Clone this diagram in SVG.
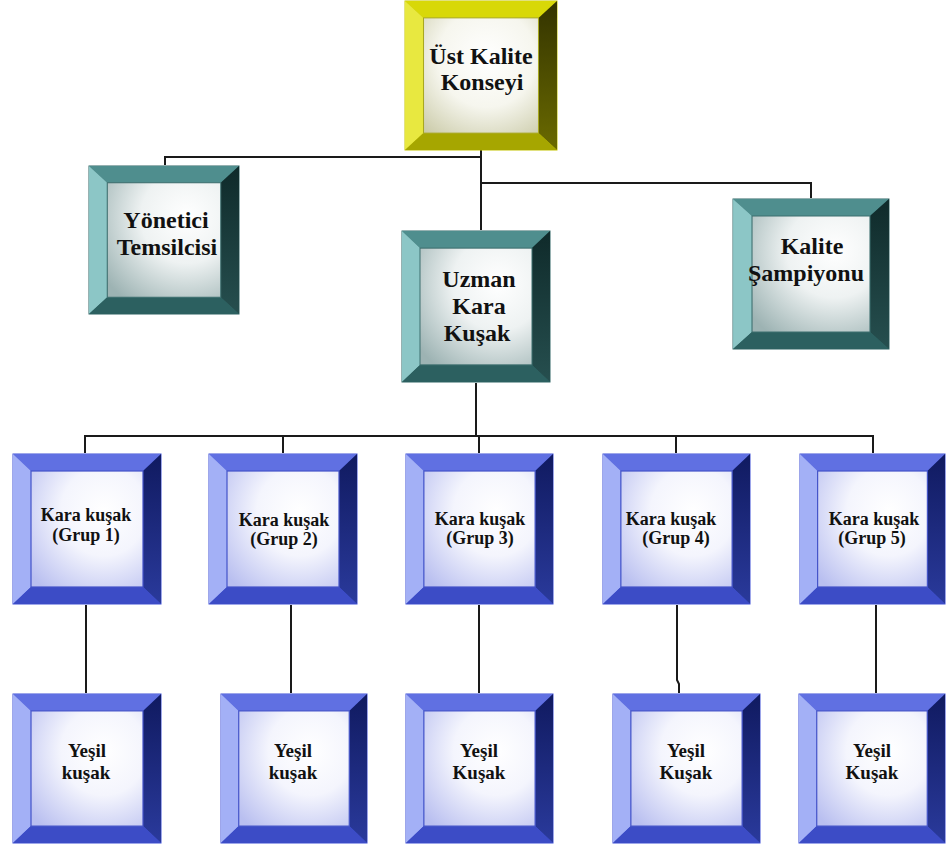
<svg xmlns="http://www.w3.org/2000/svg" xmlns:xlink="http://www.w3.org/1999/xlink" width="947" height="847" viewBox="0 0 947 847">
  <style>
    .lbl { font-family: "Liberation Serif", "Times New Roman", serif; font-weight: bold; fill: #111; text-anchor: middle; }
    .big { font-size: 24px; }
    .mid { font-size: 24px; }
    .small { font-size: 18px; }
    .green { font-size: 19px; }
    .wire { fill: none; stroke: #1a1a1a; stroke-width: 2; }
  </style>
  <defs>
    <!-- face gradients -->
    <radialGradient id="faceBlue" cx="0.65" cy="0.35" r="0.85">
      <stop offset="0" stop-color="#ffffff"/>
      <stop offset="0.45" stop-color="#f4f5fd"/>
      <stop offset="1" stop-color="#b9bff0"/>
    </radialGradient>
    <radialGradient id="faceTeal" cx="0.7" cy="0.3" r="0.9">
      <stop offset="0" stop-color="#ffffff"/>
      <stop offset="0.45" stop-color="#eef2f2"/>
      <stop offset="1" stop-color="#9db3b3"/>
    </radialGradient>
    <radialGradient id="faceYellow" cx="0.55" cy="0.35" r="0.85">
      <stop offset="0" stop-color="#ffffff"/>
      <stop offset="0.5" stop-color="#f6f6ee"/>
      <stop offset="1" stop-color="#c9c9a6"/>
    </radialGradient>
    <linearGradient id="rightBlue" x1="0" y1="0" x2="0" y2="1">
      <stop offset="0" stop-color="#101a60"/>
      <stop offset="1" stop-color="#2a3a9c"/>
    </linearGradient>
    <linearGradient id="rightTeal" x1="0" y1="0" x2="0" y2="1">
      <stop offset="0" stop-color="#0f2a2a"/>
      <stop offset="1" stop-color="#264f4f"/>
    </linearGradient>
    <linearGradient id="rightYellow" x1="0" y1="0" x2="0" y2="1">
      <stop offset="0" stop-color="#333300"/>
      <stop offset="1" stop-color="#6a6a00"/>
    </linearGradient>

    <!-- bevelled frames, 150 x 152 -->
    <symbol id="boxBlue" viewBox="0 0 150 152" preserveAspectRatio="none">
      <rect x="0.5" y="0.5" width="149" height="151" fill="#3f50d6"/>
      <polygon points="1,1 149,1 131,18 19,18" fill="#6070e2"/>
      <polygon points="1,1 19,18 19,134 1,151" fill="#a3b0f6"/>
      <polygon points="149,1 149,151 131,134 131,18" fill="url(#rightBlue)"/>
      <polygon points="1,151 19,134 131,134 149,151" fill="#3c4cc6"/>
      <rect x="19" y="18" width="112" height="116" fill="url(#faceBlue)" stroke="#4353c8" stroke-width="1.2"/>
    </symbol>
    <symbol id="boxTeal" viewBox="0 0 150 152" preserveAspectRatio="none">
      <rect x="0.5" y="0.5" width="149" height="151" fill="#2f6464"/>
      <polygon points="1,1 149,1 131,18 19,18" fill="#4f8e8e"/>
      <polygon points="1,1 19,18 19,134 1,151" fill="#8cc6c6"/>
      <polygon points="149,1 149,151 131,134 131,18" fill="url(#rightTeal)"/>
      <polygon points="1,151 19,134 131,134 149,151" fill="#2c6060"/>
      <rect x="19" y="18" width="112" height="116" fill="url(#faceTeal)" stroke="#3c6e6e" stroke-width="1"/>
    </symbol>
    <symbol id="boxYellow" viewBox="0 0 150 152" preserveAspectRatio="none">
      <rect x="0.5" y="0.5" width="149" height="151" fill="#c4c400"/>
      <polygon points="1,1 149,1 131,18 19,18" fill="#d8d808"/>
      <polygon points="1,1 19,18 19,134 1,151" fill="#e8e840"/>
      <polygon points="149,1 149,151 131,134 131,18" fill="url(#rightYellow)"/>
      <polygon points="1,151 19,134 131,134 149,151" fill="#a6a600"/>
      <rect x="19" y="18" width="112" height="116" fill="url(#faceYellow)" stroke="#a8a820" stroke-width="1"/>
    </symbol>
  </defs>

  <rect width="947" height="847" fill="#ffffff"/>

  <!-- connectors -->
  <g id="connectors">
    <polyline class="wire" points="165,165 165,157 481,157"/>
    <polyline class="wire" points="481,150 481,230"/>
    <polyline class="wire" points="481,183 811,183 811,198"/>
    <polyline class="wire" points="476,383 476,436"/>
    <polyline class="wire" points="85,453 85,436 873,436 873,453"/>
    <line class="wire" x1="283" y1="436" x2="283" y2="453"/>
    <line class="wire" x1="479" y1="436" x2="479" y2="453"/>
    <line class="wire" x1="676" y1="436" x2="676" y2="453"/>
    <line class="wire" x1="86" y1="605" x2="86" y2="693"/>
    <line class="wire" x1="291" y1="605" x2="291" y2="693"/>
    <line class="wire" x1="479" y1="605" x2="479" y2="693"/>
    <polyline class="wire" points="677,605 677,680 679,684 679,693"/>
    <line class="wire" x1="876" y1="605" x2="876" y2="693"/>
  </g>

  <!-- top level -->
  <g id="ust-kalite-konseyi">
    <use xlink:href="#boxYellow" x="404" y="0" width="154" height="151"/>
    <text class="lbl mid" x="481" y="64">Üst Kalite</text>
    <text class="lbl mid" x="482" y="90">Konseyi</text>
  </g>

  <g id="yonetici-temsilcisi">
    <use xlink:href="#boxTeal" x="88" y="165" width="152" height="150"/>
    <text class="lbl big" x="166" y="228">Yönetici</text>
    <text class="lbl big" x="167" y="255">Temsilcisi</text>
  </g>

  <g id="uzman-kara-kusak">
    <use xlink:href="#boxTeal" x="401" y="230" width="150" height="153"/>
    <text class="lbl big" x="479" y="287">Uzman</text>
    <text class="lbl big" x="479" y="314">Kara</text>
    <text class="lbl big" x="477" y="341">Kuşak</text>
  </g>

  <g id="kalite-sampiyonu">
    <use xlink:href="#boxTeal" x="732" y="198" width="158" height="152"/>
    <text class="lbl big" x="812" y="254">Kalite</text>
    <text class="lbl big" x="806" y="281">Şampiyonu</text>
  </g>

  <!-- black belt groups -->
  <g id="kara-kusak-1">
    <use xlink:href="#boxBlue" x="12" y="453" width="150" height="152"/>
    <text class="lbl small" x="86" y="521">Kara kuşak</text>
    <text class="lbl small" x="86" y="541">(Grup 1)</text>
  </g>
  <g id="kara-kusak-2">
    <use xlink:href="#boxBlue" x="208" y="453" width="150" height="152"/>
    <text class="lbl small" x="284" y="526">Kara kuşak</text>
    <text class="lbl small" x="284" y="545">(Grup 2)</text>
  </g>
  <g id="kara-kusak-3">
    <use xlink:href="#boxBlue" x="405" y="453" width="149" height="152"/>
    <text class="lbl small" x="480" y="525">Kara kuşak</text>
    <text class="lbl small" x="480" y="544">(Grup 3)</text>
  </g>
  <g id="kara-kusak-4">
    <use xlink:href="#boxBlue" x="602" y="453" width="149" height="152"/>
    <text class="lbl small" x="671" y="525">Kara kuşak</text>
    <text class="lbl small" x="676" y="544">(Grup 4)</text>
  </g>
  <g id="kara-kusak-5">
    <use xlink:href="#boxBlue" x="799" y="453" width="147" height="152"/>
    <text class="lbl small" x="874" y="525">Kara kuşak</text>
    <text class="lbl small" x="872" y="544">(Grup 5)</text>
  </g>

  <!-- green belts -->
  <g id="yesil-kusak-1">
    <use xlink:href="#boxBlue" x="12" y="693" width="150" height="151"/>
    <text class="lbl green" x="87" y="757">Yeşil</text>
    <text class="lbl green" x="86" y="779">kuşak</text>
  </g>
  <g id="yesil-kusak-2">
    <use xlink:href="#boxBlue" x="220" y="693" width="148" height="151"/>
    <text class="lbl green" x="293" y="757">Yeşil</text>
    <text class="lbl green" x="293" y="779">kuşak</text>
  </g>
  <g id="yesil-kusak-3">
    <use xlink:href="#boxBlue" x="405" y="693" width="149" height="151"/>
    <text class="lbl green" x="479" y="757">Yeşil</text>
    <text class="lbl green" x="479" y="779">Kuşak</text>
  </g>
  <g id="yesil-kusak-4">
    <use xlink:href="#boxBlue" x="612" y="693" width="149" height="151"/>
    <text class="lbl green" x="686" y="757">Yeşil</text>
    <text class="lbl green" x="686" y="779">Kuşak</text>
  </g>
  <g id="yesil-kusak-5">
    <use xlink:href="#boxBlue" x="798" y="693" width="148" height="151"/>
    <text class="lbl green" x="872" y="757">Yeşil</text>
    <text class="lbl green" x="872" y="779">Kuşak</text>
  </g>
</svg>
